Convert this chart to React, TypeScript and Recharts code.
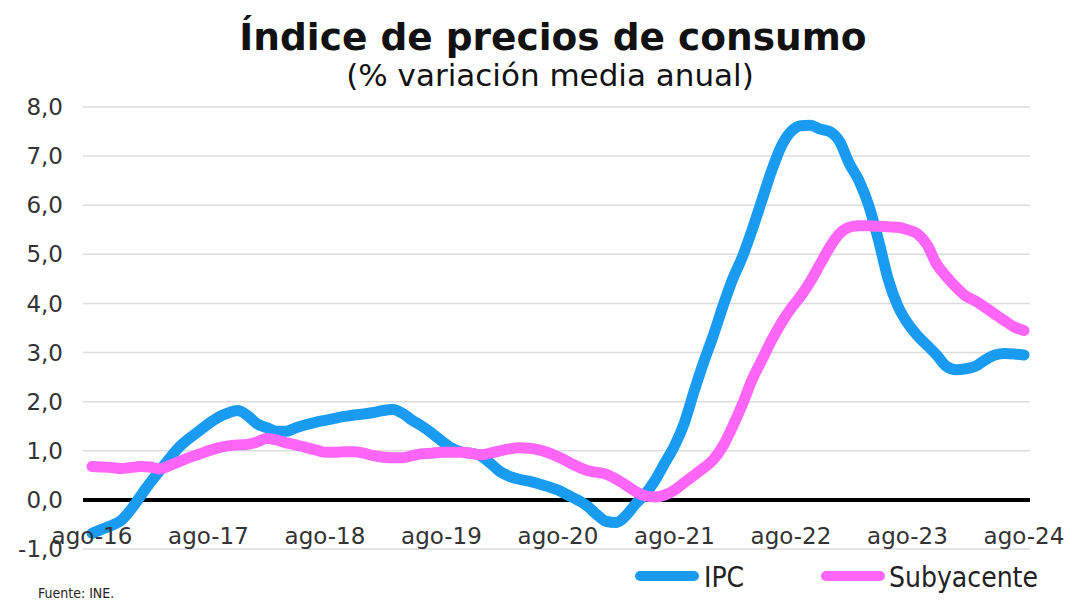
import { LineChart, Line, XAxis, YAxis, CartesianGrid, ReferenceLine, Legend } from 'recharts';

const mesesAbr = ['ago', 'sep', 'oct', 'nov', 'dic', 'ene', 'feb', 'mar', 'abr', 'may', 'jun', 'jul'];

// IPC, % variación media anual, ago-16 .. ago-24
const ipc = [
  -0.68, -0.6, -0.52, -0.42, -0.2, 0.08, 0.35, 0.6,
  0.85, 1.08, 1.25, 1.4, 1.55, 1.68, 1.77, 1.82,
  1.72, 1.55, 1.47, 1.4, 1.4, 1.47, 1.53, 1.58,
  1.62, 1.66, 1.7, 1.73, 1.75, 1.78, 1.82, 1.84,
  1.76, 1.62, 1.5, 1.36, 1.2, 1.06, 0.98, 0.95,
  0.9, 0.75, 0.58, 0.48, 0.42, 0.38, 0.33, 0.27,
  0.2, 0.1, 0.0, -0.12, -0.3, -0.44, -0.46, -0.32,
  -0.08, 0.12, 0.4, 0.75, 1.1, 1.56, 2.2, 2.8,
  3.35, 3.95, 4.5, 4.95, 5.5, 6.1, 6.7, 7.2,
  7.5, 7.62, 7.63, 7.55, 7.5, 7.3, 6.85, 6.5,
  6.0, 5.3, 4.5, 3.95, 3.6, 3.35, 3.15, 2.95,
  2.72, 2.65, 2.67, 2.72, 2.85, 2.95, 2.98, 2.97,
  2.95,
];

const subyacente = [
  0.68, 0.67, 0.66, 0.64, 0.66, 0.68, 0.67, 0.63,
  0.7, 0.78, 0.86, 0.93, 1.0, 1.06, 1.1, 1.12,
  1.13, 1.18, 1.25, 1.22, 1.16, 1.12, 1.07, 1.02,
  0.97, 0.97, 0.98, 0.98, 0.95, 0.9, 0.87, 0.86,
  0.86, 0.9, 0.94, 0.95, 0.97, 0.97, 0.97, 0.95,
  0.92, 0.95, 1.0, 1.04, 1.06, 1.05, 1.02, 0.96,
  0.88, 0.78, 0.68, 0.6, 0.56, 0.52, 0.42, 0.3,
  0.17, 0.08, 0.06, 0.1, 0.2, 0.35, 0.5, 0.65,
  0.82, 1.1, 1.5, 1.95, 2.45, 2.85, 3.25, 3.6,
  3.9, 4.15, 4.45, 4.8, 5.15, 5.42, 5.55, 5.58,
  5.58, 5.57, 5.56, 5.55, 5.5, 5.42, 5.2, 4.8,
  4.55, 4.33, 4.15, 4.05, 3.92, 3.78, 3.65, 3.52,
  3.45,
];

const yTicks = [-1, 0, 1, 2, 3, 4, 5, 6, 7, 8];

// month labels, starting at ago-16
const meses = ipc.map((_, i) => {
  const yy = 16 + Math.floor((i + 7) / 12);
  return `${mesesAbr[i % 12]}-${yy}`;
});
const xTicks = meses.filter((m) => m.startsWith('ago'));

const data = meses.map((mes, i) => ({ mes, IPC: ipc[i], Subyacente: subyacente[i] }));

const BLUE = '#1a9bf2';
const PINK = '#ff66f7';
const FONT = '"DejaVu Sans", Verdana, sans-serif';
const COND = '"DejaVu Sans Condensed", "DejaVu Sans", sans-serif';

const XTick = (props: any) => {
  const { x, y, payload } = props;
  return (
    <text x={x} y={y - 5} textAnchor="middle" fontSize={23} fill="#333" fontFamily={FONT}>
      {payload.value}
    </text>
  );
};

const LegendBox = () => (
  <svg width={450} height={40}>
    <line x1={20} y1={18} x2={74} y2={18} stroke={BLUE} strokeWidth={10} strokeLinecap="round" />
    <text x={84} y={29} fontSize={28} fill="#222" fontFamily={COND}>IPC</text>
    <line x1={206} y1={18} x2={260} y2={18} stroke={PINK} strokeWidth={10} strokeLinecap="round" />
    <text x={269} y={29} fontSize={28} fill="#222" fontFamily={COND}>Subyacente</text>
  </svg>
);

export default function App() {
  return (
    <div style={{ position: 'absolute', left: 0, top: 0, width: 1072, height: 601, background: '#fff' }}>
      <LineChart width={1072} height={601} data={data} margin={{ top: 107, right: 42, bottom: 51, left: 13 }}>
        <CartesianGrid vertical={false} stroke="#dcdcdc" strokeWidth={1.5} />
        <XAxis
          dataKey="mes"
          ticks={xTicks}
          interval={0}
          axisLine={false}
          tickLine={false}
          tickSize={0}
          tickMargin={0}
          height={1}
          padding={{ left: 9, right: 6 }}
          tick={<XTick />}
        />
        <YAxis
          domain={[-1, 8]}
          ticks={yTicks}
          interval={0}
          width={70}
          axisLine={false}
          tickLine={false}
          tickMargin={14}
          tickFormatter={(v: number) => v.toFixed(1).replace('.', ',')}
          tick={{ fontSize: 23, fill: '#333', fontFamily: FONT }}
        />
        <ReferenceLine y={0} stroke="#000" strokeWidth={4} />
        <Line type="monotone" dataKey="IPC" stroke={BLUE} strokeWidth={11} dot={false} strokeLinecap="round" isAnimationActive={false} />
        <Line type="monotone" dataKey="Subyacente" stroke={PINK} strokeWidth={11} dot={false} strokeLinecap="round" isAnimationActive={false} />
        <Legend verticalAlign="middle" wrapperStyle={{ top: 558, left: 620, width: 450 }} content={<LegendBox />} />
      </LineChart>
      <svg width={1072} height={601} style={{ position: 'absolute', left: 0, top: 0, pointerEvents: 'none' }}>
        <text x={553} y={50} textAnchor="middle" fontSize={37.5} fontWeight="bold" fill="#111" fontFamily={FONT}>
          Índice de precios de consumo
        </text>
        <text x={550} y={86} textAnchor="middle" fontSize={31} fill="#111" fontFamily={FONT}>
          (% variación media anual)
        </text>
        <text x={38} y={598} fontSize={14} fill="#222" fontFamily={COND}>Fuente: INE.</text>
      </svg>
    </div>
  );
}
